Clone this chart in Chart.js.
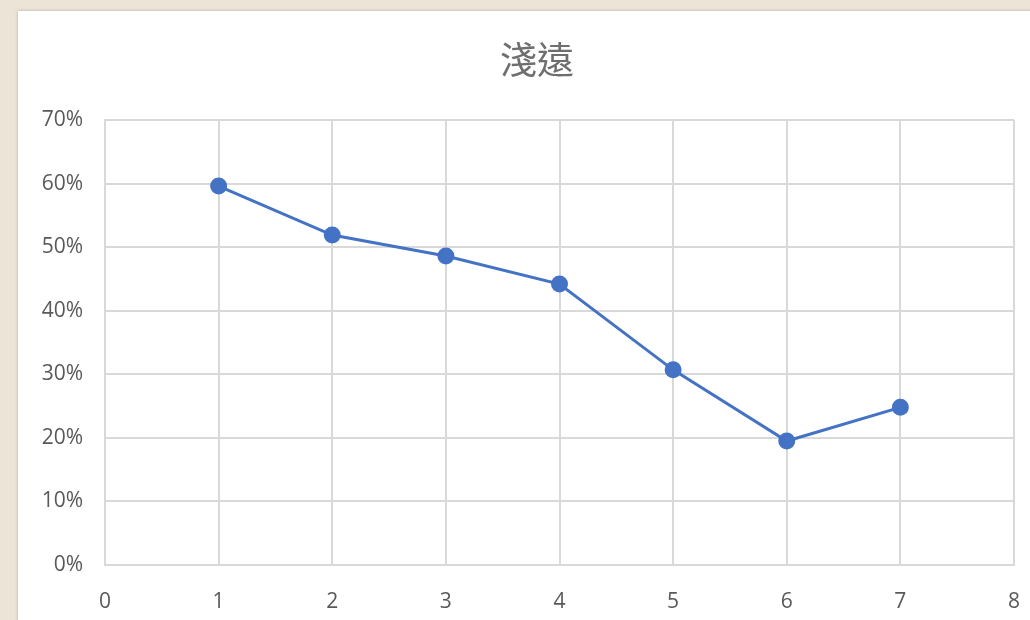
<!DOCTYPE html>
<html>
<head>
<meta charset="utf-8">
<script src="https://cdn.jsdelivr.net/npm/chart.js@4/dist/chart.umd.min.js"></script>
<style>
  html, body { margin: 0; padding: 0; width: 1030px; height: 620px; overflow: hidden; }
  body { background: #ece4d6; position: relative; }
  #panel {
    position: absolute; left: 18px; top: 11px; width: 1040px; height: 640px;
    background: #ffffff; box-shadow: 0 0 3px rgba(120, 110, 95, 0.45);
  }
  #wrap { position: absolute; left: 0; top: 0; width: 1030px; height: 620px; }
</style>
</head>
<body>
<div id="panel"></div>
<div id="wrap"><canvas id="c" width="1030" height="620"></canvas></div>
<script>
// Share of "淺遠" by step
const title = '淺遠';
const steps = [1, 2, 3, 4, 5, 6, 7];
const shares = [0.596, 0.519, 0.486, 0.442, 0.307, 0.195, 0.248];
const xRange = [0, 8];
const yRange = [0, 0.7];

const grey = '#595959';
const gridGrey = '#d9d9d9';
const blue = '#4472c4';

const points = steps.map((s, i) => ({ x: s, y: shares[i] }));

// Title drawn centred on the white panel rather than the canvas
const panelTitle = {
  id: 'panelTitle',
  afterDraw(chart) {
    const ctx = chart.ctx;
    ctx.save();
    ctx.fillStyle = '#6e6e6e';
    ctx.font = '37px "Noto Sans CJK TC", sans-serif';
    ctx.textAlign = 'center';
    ctx.textBaseline = 'middle';
    ctx.fillText(title, chart.width / 2 + 22, 60);
    ctx.restore();
  }
};

new Chart(document.getElementById('c'), {
  type: 'line',
  data: {
    datasets: [{
      data: points,
      borderColor: blue,
      backgroundColor: blue,
      borderWidth: 3,
      pointRadius: 7,
      pointHoverRadius: 7,
      pointBackgroundColor: blue,
      pointBorderColor: blue,
      tension: 0
    }]
  },
  plugins: [panelTitle],
  options: {
    responsive: false,
    animation: false,
    layout: { padding: { left: 0, right: 0, top: 120, bottom: 0 } },
    plugins: {
      legend: { display: false },
      tooltip: { enabled: false },
      title: { display: false }
    },
    scales: {
      x: {
        type: 'linear',
        min: xRange[0],
        max: xRange[1],
        grid: { color: gridGrey, lineWidth: 2, drawTicks: false },
        border: { color: gridGrey, width: 2 },
        ticks: {
          stepSize: 1,
          color: grey,
          padding: 24,
          font: { family: '"Open Sans", sans-serif', size: 21 }
        },
        afterFit(scale) { scale.height = 55; scale.paddingRight = 16; }
      },
      y: {
        type: 'linear',
        min: yRange[0],
        max: yRange[1],
        grid: { color: gridGrey, lineWidth: 2, drawTicks: false },
        border: { color: gridGrey, width: 2 },
        ticks: {
          stepSize: 0.1,
          color: grey,
          padding: 22,
          font: { family: '"Open Sans", sans-serif', size: 21 },
          callback: v => Math.round(v * 100) + '%'
        },
        afterFit(scale) { scale.width = 105; scale.paddingTop = 0; }
      }
    }
  }
});
</script>
</body>
</html>
